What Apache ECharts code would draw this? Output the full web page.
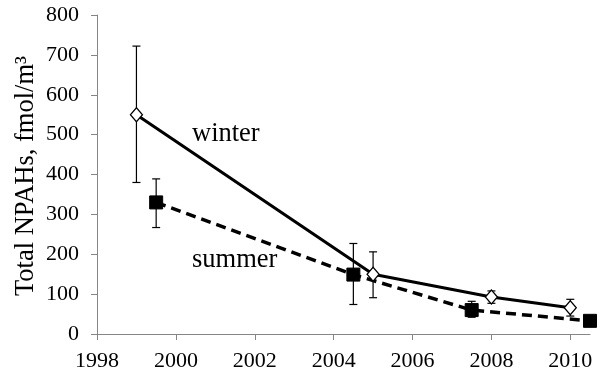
<!DOCTYPE html>
<html>
<head>
<meta charset="utf-8">
<script src="https://cdn.jsdelivr.net/npm/echarts@6/dist/echarts.min.js"></script>
<style>
html,body{margin:0;padding:0;background:#fff;}
#c{width:605px;height:372px;}
</style>
</head>
<body>
<div id="c"></div>
<script>
// Winter (open diamonds, solid line)
var winterYears = [1999, 2005, 2008, 2010];
var winterValues = [550, 150, 93, 66];
var winterLow = [380, 91, 77, 45];
var winterHigh = [722, 206, 108, 87];

// Summer (filled squares, dashed line)
var summerYears = [1999.5, 2004.5, 2007.5, 2010.5];
var summerValues = [330, 149, 60, 33];
var summerLow = [267, 74, 42, 27];
var summerHigh = [389, 227, 82, 40];

var xTicks = [1998, 2000, 2002, 2004, 2006, 2008, 2010];
var yTitle = 'Total NPAHs, fmol/m\u00B3';
var labelWinter = 'winter';
var labelSummer = 'summer';

var FONT = "'Liberation Serif', 'Times New Roman', serif";

function pairs(xs, ys) { return xs.map(function (x, i) { return [x, ys[i]]; }); }
function errRows(xs, lo, hi) { return xs.map(function (x, i) { return [x, lo[i], hi[i]]; }); }

var errData = errRows(winterYears, winterLow, winterHigh).concat(errRows(summerYears, summerLow, summerHigh));

function renderErr(params, api) {
  var x = api.value(0), lo = api.value(1), hi = api.value(2);
  var pLo = api.coord([x, lo]);
  var pHi = api.coord([x, hi]);
  var cap = 4;
  var st = { stroke: '#000', lineWidth: 1.2 };
  return {
    type: 'group',
    children: [
      { type: 'line', shape: { x1: pLo[0], y1: pLo[1], x2: pHi[0], y2: pHi[1] }, style: st },
      { type: 'line', shape: { x1: pLo[0] - cap, y1: pLo[1], x2: pLo[0] + cap, y2: pLo[1] }, style: st },
      { type: 'line', shape: { x1: pHi[0] - cap, y1: pHi[1], x2: pHi[0] + cap, y2: pHi[1] }, style: st }
    ]
  };
}

var chart = echarts.init(document.getElementById('c'), null, { renderer: 'canvas' });
chart.setOption({
  animation: false,
  backgroundColor: '#fff',
  grid: { left: 97, top: 15, width: 493, height: 319, containLabel: false },
  xAxis: {
    type: 'value', min: 1998, max: 2010.5, interval: 2,
    splitLine: { show: false },
    axisLine: { lineStyle: { color: '#868686', width: 1 } },
    axisTick: { show: true, length: 6, lineStyle: { color: '#868686' }, customValues: xTicks },
    axisLabel: { customValues: xTicks, margin: 16, color: '#000', fontFamily: FONT, fontSize: 22,
      formatter: function (v) { return String(v); } }
  },
  yAxis: {
    type: 'value', min: 0, max: 800, interval: 100,
    splitLine: { show: false },
    axisLine: { show: true, lineStyle: { color: '#868686', width: 1 } },
    axisTick: { show: true, length: 6, lineStyle: { color: '#868686' } },
    axisLabel: { margin: 18, color: '#000', fontFamily: FONT, fontSize: 22 }
  },
  graphic: [
    { type: 'text', x: 26, y: 176, rotation: Math.PI / 2,
      style: { text: yTitle, fill: '#000', font: "26.5px 'Liberation Serif', serif", align: 'center', verticalAlign: 'middle' } },
    { type: 'text', x: 192, y: 134,
      style: { text: labelWinter, fill: '#000', font: "26.5px 'Liberation Serif', serif", align: 'left', verticalAlign: 'middle' } },
    { type: 'text', x: 192, y: 260,
      style: { text: labelSummer, fill: '#000', font: "26.5px 'Liberation Serif', serif", align: 'left', verticalAlign: 'middle' } }
  ],
  series: [
    {
      type: 'custom', name: 'err', renderItem: renderErr, data: errData, z: 1,
      encode: { x: 0, y: [1, 2] }, clip: false
    },
    {
      type: 'line', name: 'winter', data: pairs(winterYears, winterValues), z: 3,
      symbol: 'diamond', symbolSize: [12, 14], showAllSymbol: true,
      lineStyle: { color: '#000', width: 3 },
      itemStyle: { color: '#fff', borderColor: '#000', borderWidth: 1.3 }
    },
    {
      type: 'line', name: 'summer', data: pairs(summerYears, summerValues), z: 2,
      symbol: 'rect', symbolSize: 13, showAllSymbol: true,
      lineStyle: { color: '#000', width: 3.5, type: [10, 6] },
      itemStyle: { color: '#000', borderColor: '#000', borderWidth: 1 }
    }
  ]
});
</script>
</body>
</html>
